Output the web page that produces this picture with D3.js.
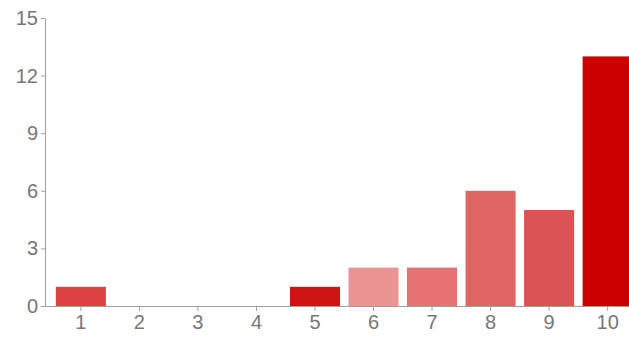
<!DOCTYPE html>
<html>
<head>
<meta charset="utf-8">
<script src="https://cdn.jsdelivr.net/npm/d3@7"></script>
<style>
  html, body { margin: 0; padding: 0; background: #fff; }
  svg { display: block; }
  .axis text { font-family: "Liberation Sans", Arial, sans-serif; font-size: 20px; fill: #777; }
  .axis path, .axis line { stroke: #a0a0a0; }
</style>
</head>
<body>
<svg id="chart" width="629" height="337"></svg>
<script>
// Rating scale 1–10 and number of responses per rating
const ratings = ["1", "2", "3", "4", "5", "6", "7", "8", "9", "10"];
const counts = [1, 0, 0, 0, 1, 2, 2, 6, 5, 13];
const barColors = ["#dc4242", "#dc4242", "#dc4242", "#dc4242", "#d01414",
                   "#ea9494", "#e57373", "#e06565", "#dc5353", "#cc0000"];
const yTicks = [0, 3, 6, 9, 12, 15];

const svg = d3.select("#chart");
const axisX = 45, baseY = 306, topY = 18;

const x = d3.scaleBand()
  .domain(ratings)
  .range([51.75, 636.75])
  .paddingInner(0.145)
  .paddingOuter(0.07);

const y = d3.scaleLinear()
  .domain([0, 15])
  .range([baseY, topY]);

// bars
svg.append("g")
  .selectAll("rect")
  .data(ratings.map((r, i) => ({ r, v: counts[i], c: barColors[i] })))
  .join("rect")
  .attr("x", d => x(d.r))
  .attr("width", x.bandwidth())
  .attr("y", d => y(d.v))
  .attr("height", d => baseY - y(d.v))
  .attr("fill", d => d.c);

// y axis
const gy = svg.append("g")
  .attr("class", "axis")
  .attr("transform", `translate(${axisX},0)`)
  .call(d3.axisLeft(y).tickValues(yTicks).tickSize(4).tickSizeOuter(0).tickPadding(3));

// x axis
const gx = svg.append("g")
  .attr("class", "axis")
  .attr("transform", `translate(0,${baseY})`)
  .call(d3.axisBottom(x).tickSize(5).tickSizeOuter(0).tickPadding(4));
gx.select(".domain").attr("d", `M${axisX},0.5H629`);
gx.selectAll(".tick line").attr("stroke", "#a0a0a0");
</script>
</body>
</html>
